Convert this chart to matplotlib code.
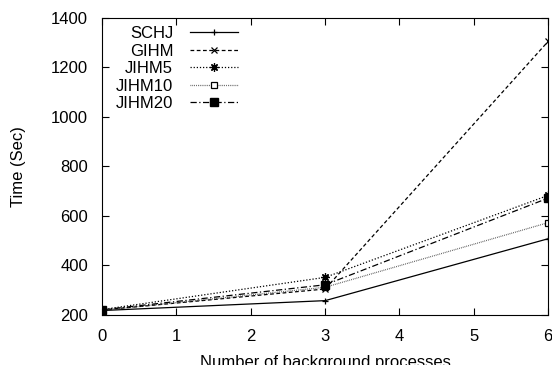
import matplotlib
matplotlib.use("Agg")
import matplotlib.pyplot as plt

plt.rcParams['font.family'] = ['Liberation Sans', 'DejaVu Sans']

# dados
processos = [0, 3, 6]
schj = [218, 258, 508]
gihm = [220, 305, 1305]
jihm5 = [222, 352, 683]
jihm10 = [219, 312, 573]
jihm20 = [221, 322, 672]

fig = plt.figure(figsize=(5.52, 3.65), dpi=100)
ax = fig.add_axes([0.185, 0.137, 0.808, 0.814])

ax.plot(processos, schj, color='black', lw=0.9, ls='-', marker='+', ms=5, mew=0.9, label='SCHJ')
ax.plot(processos, gihm, color='black', lw=0.9, ls=(0, (3, 2)), marker='x', ms=4, mew=0.9, label='GIHM')
ax.plot(processos, jihm5, color='black', lw=0.9, ls=(0, (1, 1.5)), marker=(8, 2, 0), ms=6, mew=0.9, label='JIHM5')
ax.plot(processos, jihm10, color='#444444', lw=0.9, ls=(0, (0.6, 0.9)), marker='s', ms=5, mfc='white',
        mec='black', mew=0.9, label='JIHM10')
ax.plot(processos, jihm20, color='black', lw=0.9, ls=(0, (5, 2, 1, 2)), marker='s', ms=6, label='JIHM20')

ax.set_xlim(0, 6)
ax.set_ylim(200, 1400)
ax.set_xticks(range(0, 7))
ax.set_yticks(range(200, 1401, 200))
ax.tick_params(direction='in', top=True, right=True, labelsize=12, length=5, pad=10)
ax.set_xlabel('Number of background processes', fontsize=12, labelpad=8)
ax.set_ylabel('Time (Sec)', fontsize=12, labelpad=18)

leg = ax.legend(loc='upper left', frameon=False, markerfirst=False, fontsize=12,
                handlelength=2.9, labelspacing=0.15, handletextpad=1.0,
                bbox_to_anchor=(0.012, 1.0), borderaxespad=0.1)
# alinhando os textos da legenda a direita
for col in leg._legend_handle_box.get_children():
    col.align = 'right'

fig.savefig('out.png', dpi=100)
